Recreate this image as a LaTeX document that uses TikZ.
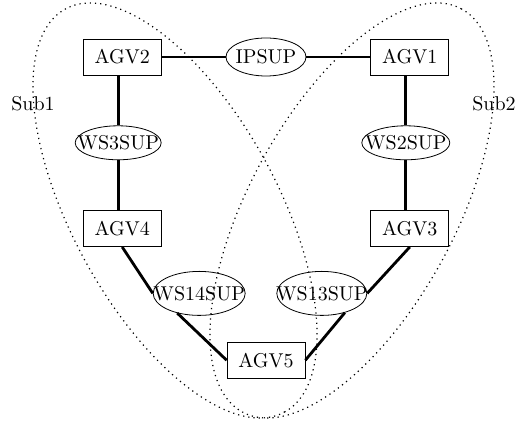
\documentclass[tikz,border=0pt]{standalone}
\usetikzlibrary{arrows,positioning,shapes}
\tikzset{
    %Define style for AGV boxes
    agvbox/.style={
           rectangle,
           draw=black, thin,
           minimum width=39pt,
           minimum height=18pt,
           inner sep=0pt},
    %Define style for supervisor ellipses
    supnode/.style={
           ellipse,
           draw=black, thin,
           inner sep=0pt},
    % Define link style
    link/.style={
           line width=1.4pt},
    % Define style for the subsystem outlines
    subset/.style={
           dotted,
           line width=0.6pt}
}
% keep the supervisor names from widening their ellipses
\newcommand\suplabel[1]{\makebox[0pt]{#1}}

\begin{document}
\begin{tikzpicture}[node distance=25pt and 32pt, auto,]
        \useasboundingbox (-133pt,28.5pt) rectangle (127.5pt,-182pt);
        %nodes

        % IPSUP node
        \node[supnode, minimum width=40pt, minimum height=19pt]
        (ipsup) at (0,0)
        {\suplabel{IPSUP}}
        ;

        % AGV2 node
        \node[agvbox, left=of ipsup]
        (agv2)
        {AGV2}
        ;

        % AGV1 node
        \node[agvbox, right=of ipsup]
        (agv1)
        {AGV1}
        ;

        % WS3SUP node
        \node[supnode, below=of agv2, xshift=-2pt, minimum width=43pt, minimum height=17pt]
        (ws3sup)
        {\suplabel{WS3SUP}}
        ;

        % WS2SUP node
        \node[supnode, below=of agv1, xshift=-2pt, minimum width=44pt, minimum height=17pt]
        (ws2sup)
        {\suplabel{WS2SUP}}
        ;

        % AGV4 node
        \node[agvbox, below=of ws3sup, xshift=2pt]
        (agv4)
        {AGV4}
        ;

        % AGV3 node
        \node[agvbox, below=of ws2sup, xshift=2pt]
        (agv3)
        {AGV3}
        ;

        % WS14SUP node
        \node[supnode, below=12pt of agv4, xshift=38.5pt,
        minimum width=46pt, minimum height=22pt]
        (ws14sup)
        {\suplabel{WS14SUP}}
        ;

        % WS13SUP node
        \node[supnode, below=12pt of agv3, xshift=-44pt,
        minimum width=45pt, minimum height=22pt]
        (ws13sup)
        {\suplabel{WS13SUP}}
        ;

        % AGV5 node
        \node[agvbox, anchor=north, yshift=-13pt]
        (agv5) at (ipsup |- ws14sup.south)
        {AGV5}
        ;

        % subsystem outlines
        \draw[subset] (-45.5pt,-76.75pt) ellipse [x radius=114.7pt, y radius=51.5pt, rotate=-61.5];
        \draw[subset] (43pt,-76.75pt) ellipse [x radius=114.7pt, y radius=51.5pt, rotate=61.5];

        % subsystem names
        \node (sub1) at (-116.5pt,-23.5pt) {Sub1};
        \node (sub2) at (114pt,-23.5pt) {Sub2};

        % top row
        \draw[link]
        (agv2) edge (ipsup)
        (ipsup) edge (agv1)
        ;

        % left column
        \draw[link]
        (agv2.south -| ws3sup) edge (ws3sup)
        (ws3sup) edge (ws3sup |- agv4.north)
        ;

        % right column
        \draw[link]
        (agv1.south -| ws2sup) edge (ws2sup)
        (ws2sup) edge (ws2sup |- agv3.north)
        ;

        % AGV4 to AGV5
        \draw[link]
        (agv4.south) edge (ws14sup.west)
        (ws14sup.222) edge (agv5.west)
        ;

        % AGV3 to AGV5
        \draw[link]
        (agv3.south) edge (ws13sup.east)
        (ws13sup.320) edge (agv5.east)
        ;

    \end{tikzpicture}
\end{document}
